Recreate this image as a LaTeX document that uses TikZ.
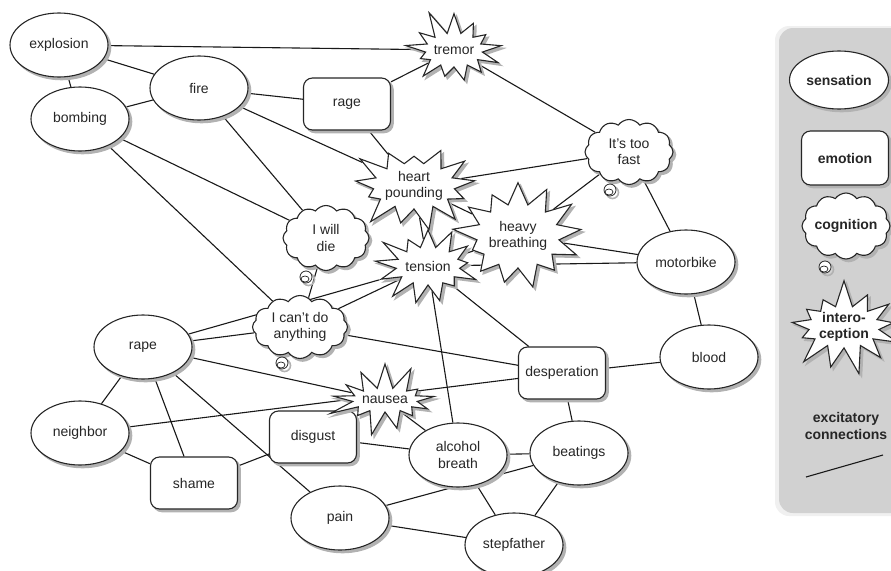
\documentclass[tikz,border=0pt]{standalone}
\usepackage{fontspec}
\setmainfont{Liberation Sans}
\usetikzlibrary{shapes,calc,backgrounds}

\tikzset{
  base/.style={draw=black!85, line width=1.1pt, fill=white, text=black!85, align=center,
    font=\fontsize{14}{16.5}\selectfont,
    preaction={draw=black!30, fill=black!30, line width=1.4pt, transform canvas={xshift=2.6pt, yshift=-2.6pt}}},
  sens/.style={base, ellipse, minimum width=98pt, minimum height=64pt, inner sep=0pt},
  emo/.style={base, rounded corners=9pt, minimum width=87pt, minimum height=52pt, inner sep=2pt},
  cogn/.style={base, cloud, cloud puffs=12, cloud puff arc=110, aspect=1.4, minimum width=88pt,
    minimum height=65pt, inner sep=-4pt},
  intero/.style={base, starburst, starburst points=13, starburst point height=26pt,
    random starburst=#1, inner sep=0pt},
  legend/.style={font=\fontsize{14}{16.5}\bfseries},
  link/.style={draw=black!90, line width=1.1pt},
}

% small bubbles under a thought cloud
\newcommand{\thinktail}[2]{%
  \draw[black!30, line width=1.6pt] ($(#1.center)+(#2)+(2.5,2.5)$) circle (6pt);
  \draw[black!85, line width=0.8pt, fill=white] ($(#1.center)+(#2)$) circle (6pt);
  \draw[black!85, line width=0.7pt] ($(#1.center)+(#2)+(-1,2)$) ellipse (4pt and 3pt);
}

\begin{document}
\begin{tikzpicture}[x=1pt,y=-1pt]
\useasboundingbox (0,0) rectangle (891,570);

% sensations
\node[sens] (explosion) at (59,45) {explosion};
\node[sens] (bombing) at (80,119) {bombing};
\node[sens] (fire) at (199,88) {fire};
\node[sens] (motorbike) at (686,262) {motorbike};
\node[sens] (rape) at (143,347) {rape};
\node[sens] (blood) at (709,357) {blood};
\node[sens] (neighbor) at (80,433) {neighbor};
\node[sens] (alcohol) at (458,455) {alcohol\\breath};
\node[sens] (beatings) at (579,453) {beatings};
\node[sens] (pain) at (340,518) {pain};
\node[sens] (stepfather) at (514,545) {stepfather};

% emotions
\node[emo] (rage) at (347,104) {rage};
\node[emo] (desperation) at (562,373) {desperation};
\node[emo] (disgust) at (313,437) {disgust};
\node[emo] (shame) at (194,483) {shame};

% cognitions
\node[cogn] (fast) at (629,152) {It’s too\\fast};
\node[cogn, minimum width=86pt] (willdie) at (326,238) {I will\\die};
\node[cogn, minimum width=95pt, minimum height=63pt] (cant) at (300,327) {I can’t do\\anything};
\thinktail{fast}{-19,38}
\thinktail{willdie}{-20,39}
\thinktail{cant}{-18,36}

% interoceptions
\node[intero=11, minimum width=88pt, minimum height=86pt] (tremor) at (454,50) {tremor};
\node[intero=23, minimum width=115pt, minimum height=98pt] (heart) at (414,186) {heart\\pounding};
\node[intero=37, minimum width=110pt, minimum height=116pt] (heavy) at (518,236) {heavy\\breathing};
\node[intero=41, minimum width=104pt, minimum height=90pt] (tension) at (428,266) {tension};
\node[intero=53, minimum width=84pt, minimum height=76pt] (nausea) at (385,400) {nausea};

% legend
\node[sens, legend, minimum width=99pt, minimum height=58pt] (Lsens) at (839,80) {sensation};
\node[emo, legend, minimum height=54pt] (Lemo) at (845,158) {emotion};
\node[cogn, legend, minimum width=88pt, minimum height=66pt, inner sep=-10pt] (Lcogn) at (846,226) {cognition};
\thinktail{Lcogn}{-21,41}
\node[intero=7, legend, minimum width=88pt, minimum height=92pt, starburst point height=28pt] (Linter) at (844,327) {intero-\\ception};
\node[legend, text=black!85, align=center] (Lexc) at (846,426) {excitatory\\connections};
\coordinate (La) at (806,477);
\coordinate (Lb) at (883,455);

\begin{scope}[on background layer]
% legend panel
\fill[black!6, rounded corners=14pt] (775,26) rectangle (910,516);
\fill[black!18, rounded corners=14pt] (779,28) rectangle (910,513);
\draw[link] (La) -- (Lb);
\draw[link] (explosion) -- (tremor);
\draw[link] (explosion) -- (fire);
\draw[link] (explosion) -- (bombing);
\draw[link] (bombing) -- (fire);
\draw[link] (fire) -- (rage);
\draw[link] (fire) -- (willdie);
\draw[link] (fire) -- (heart);
\draw[link] (bombing) -- (willdie);
\draw[link] (bombing) -- (cant);
\draw[link] (rage) -- (tremor);
\draw[link] (rage) -- (heart);
\draw[link] (tremor) -- (fast);
\draw[link] (heart) -- (fast);
\draw[link] (heavy) -- (fast);
\draw[link] (fast) -- (motorbike);
\draw[link] (heavy) -- (motorbike);
\draw[link] (tension) -- (motorbike);
\draw[link] (motorbike) -- (blood);
\draw[link] (heart) -- (tension);
\draw[link] (heart) -- (heavy);
\draw[link] (heavy) -- (tension);
\draw[link] (rape) -- (tension);
\draw[link] (willdie) -- (cant);
\draw[link] (cant) -- (tension);
\draw[link] (cant) -- (desperation);
\draw[link] (cant) -- (rape);
\draw[link] (tension) -- (desperation);
\draw[link] (tension) -- (alcohol);
\draw[link] (desperation) -- (blood);
\draw[link] (desperation) -- (beatings);
\draw[link] (neighbor) -- (desperation);
\draw[link] (rape) -- (nausea);
\draw[link] (nausea) -- (alcohol);
\draw[link] (disgust) -- (nausea);
\draw[link] (disgust) -- (alcohol);
\draw[link] (shame) -- (disgust);
\draw[link] (rape) -- (pain);
\draw[link] (rape) -- (shame);
\draw[link] (rape) -- (neighbor);
\draw[link] (neighbor) -- (shame);
\draw[link] (alcohol) -- (beatings);
\draw[link] (alcohol) -- (stepfather);
\draw[link] (pain) -- (beatings);
\draw[link] (pain) -- (stepfather);
\draw[link] (beatings) -- (stepfather);
\end{scope}
\end{tikzpicture}
\end{document}
